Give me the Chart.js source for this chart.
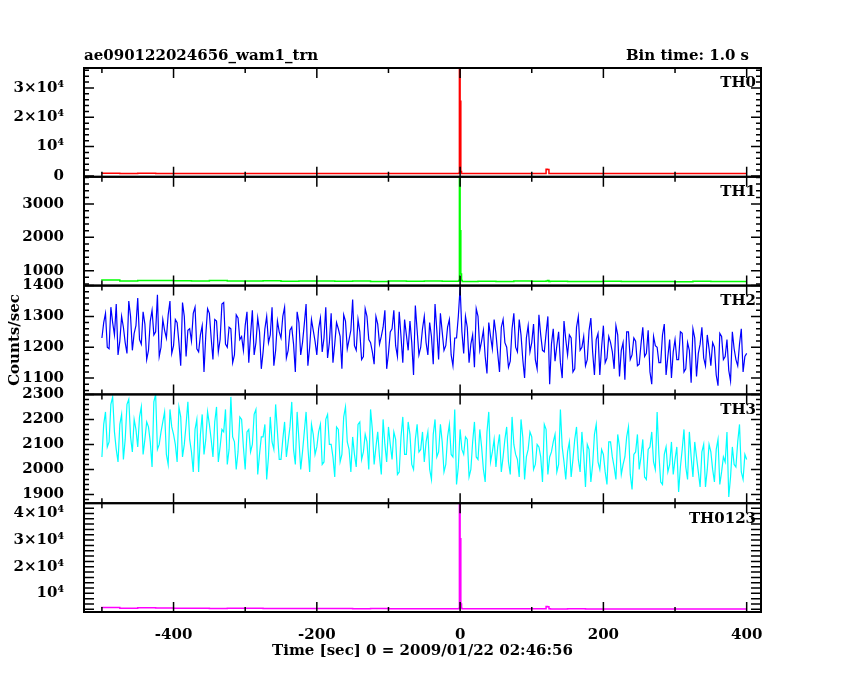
<!DOCTYPE html>
<html><head><meta charset="utf-8">
<script src="https://cdn.jsdelivr.net/npm/chart.js@4/dist/chart.umd.min.js"></script>
<style>html,body{margin:0;padding:0;background:#fff}#wrap{width:850px;height:680px}</style>
</head><body><div id="wrap"><canvas id="c" width="850" height="680"></canvas></div>
<script>
const titleLeft = "ae090122024656_wam1_trn";
const titleRight = "Bin time: 1.0 s";
const xTitle = "Time [sec] 0 = 2009/01/22 02:46:56";
const yTitle = "Counts/sec";
const panelNames = ["TH0","TH1","TH2","TH3","TH0123"];
const colors = ["#ff0000","#00ff00","#0000ff","#00ffff","#ff00ff"];
const xTicks = [-400,-200,0,200,400];

// TH0 / TH1 / TH0123: coarse times (flat parts) plus burst points
const flatTimes = [-500,-475,-450,-425,-400,-375,-350,-325,-300,-275,-250,-225,-200,-175,-150,-125,-100,-75,-50,-25,-2,3,25,50,75,100,120,122,124,126,150,175,200,225,250,275,300,325,350,375,400];
const burstTimes = [-1,0,1,2];
const th0Flat = [860,880,850,870,840,860,850,830,860,845,850,835,850,840,845,830,840,850,835,845,840,860,835,840,830,845,850,2300,2200,850,830,840,825,835,830,820,830,825,820,830,825];
const th0Burst = [900,36800,25500,1500];
const th1Flat = [700,720,690,705,700,695,690,700,685,690,695,680,690,685,680,690,675,685,680,690,680,700,675,680,670,685,680,690,700,675,680,670,675,680,670,675,670,665,680,670,675];
const th1Burst = [700,3820,2200,900];
const th0123Flat = [4500,4650,4450,4550,4500,4400,4450,4350,4400,4380,4350,4300,4320,4300,4280,4250,4300,4250,4260,4220,4230,4300,4200,4220,4180,4200,4200,5100,5000,4200,4170,4180,4150,4160,4150,4140,4150,4130,4140,4120,4130];
const th0123Burst = [4300,43800,30500,6000];

// TH2 / TH3: noisy samples, set A at -500,-495,...,400 and set B at -497.5,-492.5,...,397.5
const noisyStartA = -500, noisyStartB = -497.5, noisyStep = 5;
const th2A = [1230,1310,1195,1280,1340,1220,1265,1180,1300,1245,
1360,1210,1275,1190,1320,1250,1170,1290,1230,1350,
1205,1280,1140,1300,1255,1220,1330,1185,1270,1240,
1310,1160,1285,1225,1345,1200,1260,1175,1295,1235,
1270,1150,1320,1215,1250,1185,1300,1240,1140,1285,
1230,1330,1190,1265,1120,1280,1215,1340,1200,1255,
1175,1295,1230,1165,1310,1210,1260,1130,1285,1225,
1355,1190,1250,1170,1300,1215,1145,1275,1235,1320,
1180,1260,1205,1315,1150,1240,1285,1110,1255,1200,
1300,1175,1235,1340,1160,1250,1205,1290,1140,1230,
1395,1180,1265,1210,1135,1300,1220,1170,1280,1195,
1245,1120,1290,1200,1155,1310,1185,1240,1100,1270,
1215,1160,1305,1190,1245,1080,1260,1205,1150,1285,
1175,1230,1130,1300,1200,1140,1255,1185,1225,1110,
1270,1165,1215,1130,1240,1190,1095,1250,1175,1220,
1145,1265,1180,1120,1235,1200,1150,1275,1170,1100,
1225,1160,1245,1130,1190,1260,1105,1210,1165,1240,
1140,1200,1075,1235,1170,1125,1250,1160,1210,1120,
1180];
const th2B = [1280,1200,1330,1240,1175,1300,1215,1350,1190,1270,
1225,1315,1160,1285,1240,1370,1200,1255,1305,1180,
1290,1215,1345,1170,1260,1310,1195,1240,1120,1325,
1230,1290,1185,1340,1210,1265,1150,1305,1225,1190,
1315,1240,1175,1295,1130,1260,1215,1330,1190,1250,
1300,1165,1255,1210,1315,1175,1275,1140,1290,1220,
1260,1185,1330,1215,1150,1280,1235,1305,1195,1255,
1205,1290,1160,1325,1225,1185,1300,1210,1265,1130,
1250,1320,1170,1235,1290,1190,1215,1335,1175,1260,
1215,1280,1145,1255,1310,1190,1265,1175,1230,1300,
1250,1300,1150,1240,1325,1190,1255,1115,1235,1290,
1180,1265,1215,1135,1260,1200,1290,1160,1230,1185,
1275,1130,1240,1185,1300,1210,1155,1250,1100,1225,
1240,1120,1265,1190,1235,1160,1295,1110,1245,1200,
1150,1235,1185,1270,1105,1215,1250,1160,1230,1140,
1210,1170,1255,1080,1205,1150,1240,1110,1225,1185,
1160,1250,1120,1215,1085,1230,1180,1265,1140,1195,
1215,1110,1245,1160,1225,1090,1195,1140,1260,1170];
const th3A = [2050,2230,2110,2290,2080,2180,2040,2260,2130,2200,
2090,2250,2120,2170,2010,2300,2100,2190,2060,2240,
2140,2030,2210,2100,2270,2070,2160,1990,2220,2120,
2180,2050,2250,2090,2150,2020,2290,2110,2070,2200,
2000,2160,2100,2240,2060,2130,1960,2210,2080,2150,
2040,2190,2110,2270,2020,2120,2070,2230,1990,2140,
2090,2180,2030,2220,2100,1970,2160,2060,2250,2080,
2130,2010,2190,2070,2110,2240,2020,2150,1980,2100,
2170,2040,2120,1990,2210,2060,2140,2000,2180,2080,
2030,2150,1960,2200,2070,2110,2020,2180,2050,1940,
2160,2060,2120,2000,2190,2040,2090,1950,2230,2070,
2010,2140,2050,2170,1980,2100,2040,2200,1960,2080,
2130,2020,2090,1950,2160,2050,2110,1990,2240,2030,
2070,1970,2120,2040,2150,1930,2080,2020,2180,2000,
2060,1940,2110,2010,2140,1980,2050,2170,1920,2070,
2000,2120,1960,2090,2030,2230,1950,2060,1990,2110,
2040,1910,2080,2010,2150,1970,2050,1930,2100,2000,
2070,1950,2120,1990,2030,1890,2090,2010,2180,1960,
2040];
const th3B = [2180,2090,2260,2150,2030,2220,2120,2280,2070,2160,
2210,2060,2190,2110,2270,2080,2150,2230,2020,2170,
2100,2250,2050,2180,2120,1990,2200,2140,2060,2230,
2120,2190,2030,2160,2240,2080,2130,2000,2210,2090,
2150,2070,2220,1980,2130,2180,2050,2110,2260,2040,
2120,2050,2170,2080,2230,2000,2150,2090,2180,2060,
2150,2020,2200,2100,2050,2170,2030,2210,2110,1990,
2060,2180,2040,2140,2000,2160,2090,2050,2200,2030,
2100,2150,1980,2130,2060,2190,2020,2120,2070,2150,
2110,2000,2140,2050,2180,1990,2130,2060,2240,2010,
2080,2130,1970,2110,2050,2160,2000,2150,2030,2120,
2090,1990,2120,2030,2210,2060,1970,2130,2050,2150,
2000,2100,2050,2180,1980,2070,2140,2020,2090,1960,
2110,2040,2170,1990,2060,2100,1950,2140,2030,2080,
1990,2110,2050,1960,2090,2020,2130,1980,2060,2140,
2050,1970,2080,2150,2000,2060,1940,2090,2020,1980,
2090,2010,2160,1960,2050,2110,1990,2070,1930,2100,
2000,2080,1940,2050,2150,1970,2020,2110,1990,2060];

// axis ranges and ticks per panel
const yMin = [-300, 550, 1047, 1865, 3000];
const yMax = [36800, 3820, 1400, 2300, 43850];
const yMajor = [[0,10000,20000,30000],[1000,2000,3000],[1100,1200,1300,1400],[1900,2000,2100,2200,2300],[10000,20000,30000,40000]];
const yMinorStep = [2000,200,20,20,2000];
const yLabelMap = {0:"0",10000:"10⁴",20000:"2×10⁴",30000:"3×10⁴",40000:"4×10⁴"};

function merge(ta, va, tb, vb){
  const pts = ta.map((t,i)=>({x:t,y:va[i]})).concat(tb.map((t,i)=>({x:t,y:vb[i]})));
  return pts.sort((a,b)=>a.x-b.x);
}
function seq(start, n){ return Array.from({length:n},(_,i)=>start+i*noisyStep); }

const seriesData = [
  merge(flatTimes, th0Flat, burstTimes, th0Burst),
  merge(flatTimes, th1Flat, burstTimes, th1Burst),
  merge(seq(noisyStartA, th2A.length), th2A, seq(noisyStartB, th2B.length), th2B),
  merge(seq(noisyStartA, th3A.length), th3A, seq(noisyStartB, th3B.length), th3B),
  merge(flatTimes, th0123Flat, burstTimes, th0123Burst)
];

const FONT = "DejaVu Serif";
const axisIds = ["y4","y3","y2","y1","y0"]; // bottom to top
const scales = {
  x: {type:'linear', min:-525, max:420, grid:{display:false}, border:{display:false},
      afterBuildTicks: s=>{ s.ticks = xTicks.map(v=>({value:v})); },
      ticks:{color:'#000', font:{family:FONT,size:15,weight:'bold'}, padding:6, maxRotation:0, autoSkip:false},
      title:{display:true, text:xTitle, color:'#000', font:{family:FONT,size:15,weight:'bold'}, padding:{top:0,bottom:20}},
      afterFit: s=>{ s.height = 68; }
  }
};
for (const id of axisIds){
  const i = +id.slice(1);
  scales[id] = {
    type:'linear', position:'left', stack:'p', stackWeight:1, offset:false,
    min:yMin[i], max:yMax[i], grid:{display:false}, border:{display:false},
    afterBuildTicks: s=>{ s.ticks = yMajor[i].map(v=>({value:v})); },
    ticks:{color:'#000', font:{family:FONT,size:15,weight:'bold'}, padding:12, autoSkip:false,
      callback: v => (i===0||i===4) ? yLabelMap[v] : String(v)},
    title:{display: i===2, text:yTitle, color:'#000', font:{family:FONT,size:15,weight:'bold'}, padding:{top:6,bottom:0}},
    afterFit: s=>{ s.width = 84; }
  };
}

const framePlugin = {
  id:'frame',
  afterDatasetsDraw(chart){
    const ctx = chart.ctx, xs = chart.scales.x;
    const L = chart.chartArea.left, R = chart.chartArea.right;
    ctx.save();
    ctx.strokeStyle = '#000';
    for (let i=0;i<5;i++){
      const s = chart.scales['y'+i];
      const T = s.top, B = s.bottom;
      ctx.lineWidth = 2;
      ctx.strokeRect(L, T, R-L, B-T);
      ctx.lineWidth = 1.5;
      const lo = Math.ceil(yMin[i]/yMinorStep[i])*yMinorStep[i];
      for (let v=lo; v<=yMax[i]; v+=yMinorStep[i]){
        const py = s.getPixelForValue(v);
        const major = yMajor[i].includes(v) || (i>=2 && v%100===0);
        const len = major ? 10 : 5;
        ctx.beginPath();
        ctx.moveTo(L,py); ctx.lineTo(L+len,py);
        ctx.moveTo(R,py); ctx.lineTo(R-len,py);
        ctx.stroke();
      }
      for (let v=-500; v<=400; v+=100){
        const px = xs.getPixelForValue(v);
        const len = (v%200===0) ? 10 : 5;
        ctx.beginPath();
        ctx.moveTo(px,B); ctx.lineTo(px,B-len);
        ctx.moveTo(px,T); ctx.lineTo(px,T+len);
        ctx.stroke();
      }
      ctx.fillStyle = '#000';
      ctx.font = "bold 15px '"+FONT+"'";
      ctx.textAlign = 'right'; ctx.textBaseline = 'top';
      ctx.fillText(panelNames[i], R-5, T+8);
    }
    ctx.font = "bold 15px '"+FONT+"'";
    ctx.textBaseline = 'alphabetic';
    ctx.textAlign = 'left';
    ctx.fillText(titleLeft, L, 60);
    ctx.textAlign = 'right';
    ctx.fillText(titleRight, R-12, 60);
    ctx.restore();
  }
};

new Chart(document.getElementById('c'), {
  type:'line',
  data:{ datasets: seriesData.map((d,i)=>({
    label:panelNames[i], data:d, yAxisID:'y'+i, borderColor:colors[i], backgroundColor:colors[i],
    borderWidth:(i===2||i===3)?1.2:1.5, pointRadius:0, tension:0, stepped: (i===2||i===3) ? false : 'after'
  }))},
  options:{
    responsive:false, animation:false,
    layout:{padding:{left:0, right:89, top:68, bottom:0}},
    plugins:{legend:{display:false}, tooltip:{enabled:false}, title:{display:false}},
    scales
  },
  plugins:[framePlugin]
});
</script>
</body></html>
